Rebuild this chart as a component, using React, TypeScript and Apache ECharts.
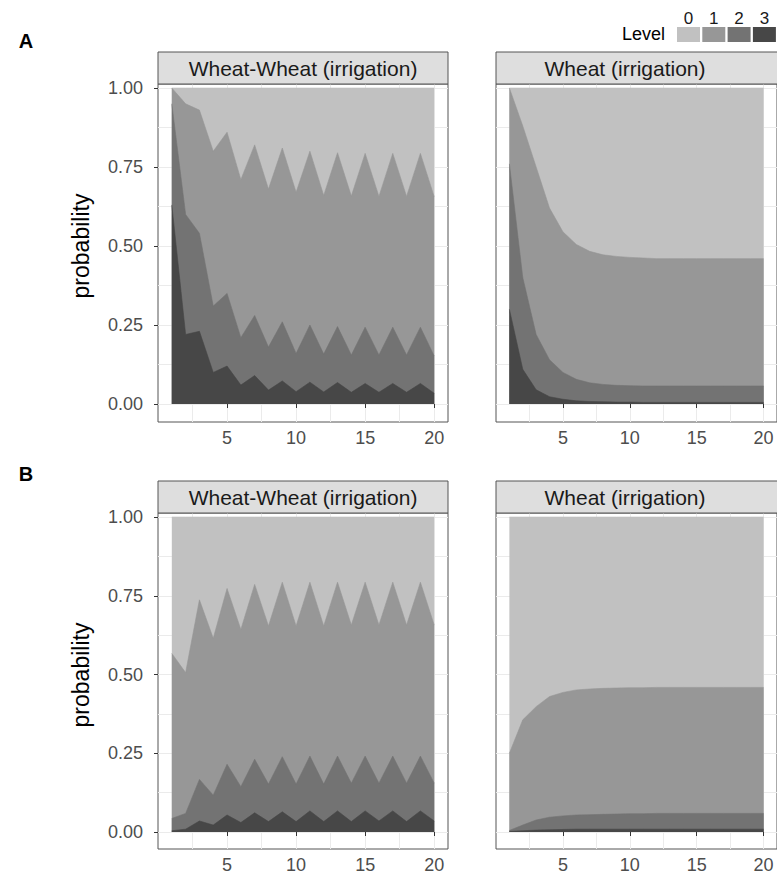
import React, { useEffect, useRef } from "react";
import * as echarts from "echarts";

// ---------- data ----------
const steps = [1, 2, 3, 4, 5, 6, 7, 8, 9, 10, 11, 12, 13, 14, 15, 16, 17, 18, 19, 20];
const levelNames = ["0", "1", "2", "3"];
const xTickValues = [5, 10, 15, 20];
const xGridValues = [2.5, 5, 7.5, 10, 12.5, 15, 17.5, 20];
const yTickValues = [0, 0.25, 0.5, 0.75, 1];
const yGridValues = [0, 0.125, 0.25, 0.375, 0.5, 0.625, 0.75, 0.875, 1];
const stripTitles = ["Wheat-Wheat (irrigation)", "Wheat (irrigation)"];
const rowLabels = ["A", "B"];

// Panel A, Wheat-Wheat (irrigation)
const aRotLevel3 = [0.63, 0.22, 0.23, 0.1, 0.12, 0.06, 0.09, 0.044, 0.073, 0.039, 0.069, 0.038, 0.068, 0.037, 0.065, 0.037, 0.065, 0.037, 0.065, 0.034];
const aRotLevel2 = [0.32, 0.38, 0.31, 0.21, 0.23, 0.15, 0.19, 0.136, 0.187, 0.121, 0.181, 0.12, 0.177, 0.118, 0.178, 0.118, 0.178, 0.118, 0.178, 0.118];
const aRotLevel1 = [0.05, 0.35, 0.39, 0.49, 0.51, 0.5, 0.54, 0.5, 0.55, 0.51, 0.55, 0.502, 0.55, 0.503, 0.55, 0.502, 0.55, 0.502, 0.55, 0.504];
const aRotLevel0 = [0, 0.05, 0.07, 0.2, 0.14, 0.29, 0.18, 0.32, 0.19, 0.33, 0.2, 0.34, 0.205, 0.342, 0.207, 0.343, 0.207, 0.343, 0.207, 0.344];

// Panel A, Wheat (irrigation)
const aMonoLevel3 = [0.3, 0.11, 0.045, 0.023, 0.015, 0.01, 0.008, 0.007, 0.006, 0.006, 0.005, 0.005, 0.005, 0.005, 0.005, 0.005, 0.005, 0.005, 0.005, 0.005];
const aMonoLevel2 = [0.46, 0.29, 0.175, 0.117, 0.085, 0.068, 0.059, 0.055, 0.053, 0.052, 0.052, 0.052, 0.052, 0.052, 0.052, 0.052, 0.052, 0.052, 0.052, 0.052];
const aMonoLevel1 = [0.24, 0.48, 0.53, 0.48, 0.445, 0.427, 0.416, 0.41, 0.408, 0.406, 0.405, 0.403, 0.403, 0.403, 0.403, 0.403, 0.403, 0.403, 0.403, 0.403];
const aMonoLevel0 = [0, 0.12, 0.25, 0.38, 0.455, 0.495, 0.517, 0.528, 0.533, 0.536, 0.538, 0.54, 0.54, 0.54, 0.54, 0.54, 0.54, 0.54, 0.54, 0.54];

// Panel B, Wheat-Wheat (irrigation)
const bRotLevel3 = [0.004, 0.009, 0.035, 0.022, 0.054, 0.03, 0.061, 0.033, 0.064, 0.033, 0.067, 0.033, 0.067, 0.033, 0.067, 0.035, 0.067, 0.033, 0.067, 0.035];
const bRotLevel2 = [0.039, 0.05, 0.132, 0.095, 0.161, 0.114, 0.17, 0.119, 0.175, 0.119, 0.174, 0.119, 0.174, 0.122, 0.174, 0.12, 0.174, 0.122, 0.174, 0.12];
const bRotLevel1 = [0.524, 0.447, 0.57, 0.498, 0.558, 0.499, 0.555, 0.502, 0.554, 0.502, 0.552, 0.502, 0.552, 0.502, 0.552, 0.502, 0.552, 0.502, 0.552, 0.502];
const bRotLevel0 = [0.433, 0.494, 0.263, 0.385, 0.227, 0.357, 0.214, 0.346, 0.207, 0.346, 0.207, 0.346, 0.207, 0.343, 0.207, 0.343, 0.207, 0.343, 0.207, 0.343];

// Panel B, Wheat (irrigation)
const bMonoLevel3 = [0.002, 0.004, 0.006, 0.007, 0.008, 0.009, 0.009, 0.009, 0.009, 0.009, 0.009, 0.009, 0.009, 0.009, 0.009, 0.009, 0.009, 0.009, 0.009, 0.009];
const bMonoLevel2 = [0.003, 0.018, 0.032, 0.04, 0.043, 0.045, 0.046, 0.047, 0.048, 0.049, 0.049, 0.05, 0.05, 0.05, 0.05, 0.05, 0.05, 0.05, 0.05, 0.05];
const bMonoLevel1 = [0.245, 0.334, 0.36, 0.383, 0.392, 0.397, 0.399, 0.4, 0.4, 0.4, 0.4, 0.4, 0.4, 0.4, 0.4, 0.4, 0.4, 0.4, 0.4, 0.4];
const bMonoLevel0 = [0.75, 0.644, 0.602, 0.57, 0.557, 0.549, 0.546, 0.544, 0.543, 0.542, 0.542, 0.541, 0.541, 0.541, 0.541, 0.541, 0.541, 0.541, 0.541, 0.541];

// ---------- styling / layout ----------
const FONT = "'Liberation Sans', Arial, Helvetica, sans-serif";
const levelColors = ["#c1c1c1", "#979797", "#737373", "#474747"];
const borderColor = "#555555";
const gridColor = "#ebebeb";

type Panel = {
  left: number;
  top: number;
  height: number;
  yMin: number;
  yMax: number;
  levels: number[][]; // index = level
  strip: string;
  stripTextX: number;
  showY: boolean;
};

const panels: Panel[] = [
  { left: 158, top: 84, height: 338, yMin: -18 / 316, yMax: 1 + 4 / 316, levels: [aRotLevel0, aRotLevel1, aRotLevel2, aRotLevel3], strip: stripTitles[0], stripTextX: 303, showY: true },
  { left: 496, top: 84, height: 338, yMin: -18 / 316, yMax: 1 + 4 / 316, levels: [aMonoLevel0, aMonoLevel1, aMonoLevel2, aMonoLevel3], strip: stripTitles[1], stripTextX: 625, showY: false },
  { left: 158, top: 513, height: 336, yMin: -17 / 315, yMax: 1 + 4 / 315, levels: [bRotLevel0, bRotLevel1, bRotLevel2, bRotLevel3], strip: stripTitles[0], stripTextX: 303, showY: true },
  { left: 496, top: 513, height: 336, yMin: -17 / 315, yMax: 1 + 4 / 315, levels: [bMonoLevel0, bMonoLevel1, bMonoLevel2, bMonoLevel3], strip: stripTitles[1], stripTextX: 625, showY: false },
];
const PANEL_W = 290;
const STRIP_H = 32;

// upper edge of the band of level lv = sum of probabilities of levels lv..3
function cumulativeUpper(levels: number[][], lv: number): number[] {
  return steps.map((_, i) => {
    let s = 0;
    for (let k = lv; k <= 3; k++) s += levels[k][i];
    return s;
  });
}

function buildOption() {
  const grid: any[] = [];
  const xAxis: any[] = [];
  const yAxis: any[] = [];
  const series: any[] = [];
  const graphic: any[] = [];
  const gridXAxes: any[] = [];
  const gridYAxes: any[] = [];

  panels.forEach((p, pi) => {
    grid.push({
      left: p.left,
      top: p.top,
      width: PANEL_W,
      height: p.height,
      show: true,
      backgroundColor: "#ffffff",
      borderColor,
      borderWidth: 1,
      containLabel: false,
    });
    xAxis.push({
      gridIndex: pi,
      type: "value",
      position: "bottom",
      min: 0,
      max: 21,
      interval: 5,
      axisLine: { show: false },
      axisTick: { show: true, length: 4, lineStyle: { color: "#333333" }, customValues: xTickValues },
      axisLabel: {
        customValues: xTickValues,
        formatter: (v: number) => (v >= 5 && v <= 20 ? String(v) : ""),
        fontSize: 18,
        color: "#4d4d4d",
        fontFamily: FONT,
        margin: 7,
        alignMaxLabel: "center",
        alignMinLabel: "center",
        hideOverlap: false,
      },
      splitLine: { show: false },
      z: 3,
    });
    yAxis.push({
      gridIndex: pi,
      type: "value",
      position: "left",
      min: p.yMin,
      max: p.yMax,
      axisLine: { show: false },
      axisTick: { show: p.showY, length: 4, lineStyle: { color: "#333333" }, customValues: yTickValues },
      axisLabel: {
        show: p.showY,
        customValues: yTickValues,
        formatter: (v: number) => v.toFixed(2),
        fontSize: 18,
        color: "#4d4d4d",
        fontFamily: FONT,
        margin: 15,
      },
      splitLine: { show: false },
      z: 3,
    });
    // background grid axes (major + minor lines only)
    gridXAxes.push({
      gridIndex: pi,
      type: "value",
      position: "top",
      min: 0,
      max: 21,
      interval: 5,
      axisLine: { show: false },
      axisTick: { show: false, customValues: xGridValues },
      axisLabel: { show: false },
      splitLine: { show: true, lineStyle: { color: gridColor, width: 1 } },
    });
    gridYAxes.push({
      gridIndex: pi,
      type: "value",
      position: "right",
      min: p.yMin,
      max: p.yMax,
      axisLine: { show: false },
      axisTick: { show: false, customValues: yGridValues },
      axisLabel: { show: false },
      splitLine: { show: true, lineStyle: { color: gridColor, width: 1 } },
    });
    // painted back-to-front: level 0 band (top edge = 1) first, level 3 last
    [0, 1, 2, 3].forEach((lv) => {
      const upper = cumulativeUpper(p.levels, lv);
      series.push({
        type: "line",
        name: levelNames[lv],
        xAxisIndex: pi,
        yAxisIndex: pi,
        symbol: "none",
        silent: true,
        lineStyle: { width: 0.6, color: levelColors[lv] },
        areaStyle: { color: levelColors[lv], opacity: 1, origin: 0 },
        data: steps.map((s, i) => [s, upper[i]]),
      });
    });
    // strip header
    graphic.push({
      type: "rect",
      shape: { x: p.left, y: p.top - STRIP_H, width: PANEL_W, height: STRIP_H },
      style: { fill: "#dedede", stroke: borderColor, lineWidth: 1 },
      z: 10,
    });
    graphic.push({
      type: "text",
      x: p.stripTextX,
      y: p.top - STRIP_H / 2,
      style: { text: p.strip, fontSize: 21, fontFamily: FONT, fill: "#1a1a1a", align: "center", verticalAlign: "middle" },
      z: 11,
    });
  });

  // row labels
  graphic.push({ type: "text", x: 26, y: 41, style: { text: rowLabels[0], fontSize: 20, fontWeight: "bold", fontFamily: FONT, fill: "#000", align: "center", verticalAlign: "middle" } });
  graphic.push({ type: "text", x: 26, y: 474, style: { text: rowLabels[1], fontSize: 20, fontWeight: "bold", fontFamily: FONT, fill: "#000", align: "center", verticalAlign: "middle" } });

  // y titles
  [246, 675].forEach((cy) => {
    graphic.push({
      type: "text",
      x: 81,
      y: cy,
      rotation: Math.PI / 2,
      style: { text: "probability", fontSize: 23, fontFamily: FONT, fill: "#000", align: "center", verticalAlign: "middle" },
    });
  });

  // legend
  graphic.push({ type: "text", x: 665, y: 34, style: { text: "Level", fontSize: 18, fontFamily: FONT, fill: "#000", align: "right", verticalAlign: "middle" } });
  levelNames.forEach((nm, i) => {
    const bx = 677 + i * 25.3;
    graphic.push({ type: "rect", shape: { x: bx, y: 27, width: 23, height: 15 }, style: { fill: levelColors[i] } });
    graphic.push({ type: "text", x: bx + 11.5, y: 18, style: { text: nm, fontSize: 17, fontFamily: FONT, fill: "#1a1a1a", align: "center", verticalAlign: "middle" } });
  });

  return {
    animation: false,
    backgroundColor: "#ffffff",
    grid,
    xAxis: [...xAxis, ...gridXAxes],
    yAxis: [...yAxis, ...gridYAxes],
    series,
    graphic,
  };
}

export default function App() {
  const ref = useRef<HTMLDivElement>(null);
  useEffect(() => {
    if (!ref.current) return;
    const chart = echarts.init(ref.current, null, { renderer: "svg" });
    chart.setOption(buildOption() as any);
    return () => chart.dispose();
  }, []);
  return (
    <div
      ref={ref}
      style={{ position: "absolute", left: 0, top: 0, width: 777, height: 876, background: "#fff" }}
    />
  );
}
